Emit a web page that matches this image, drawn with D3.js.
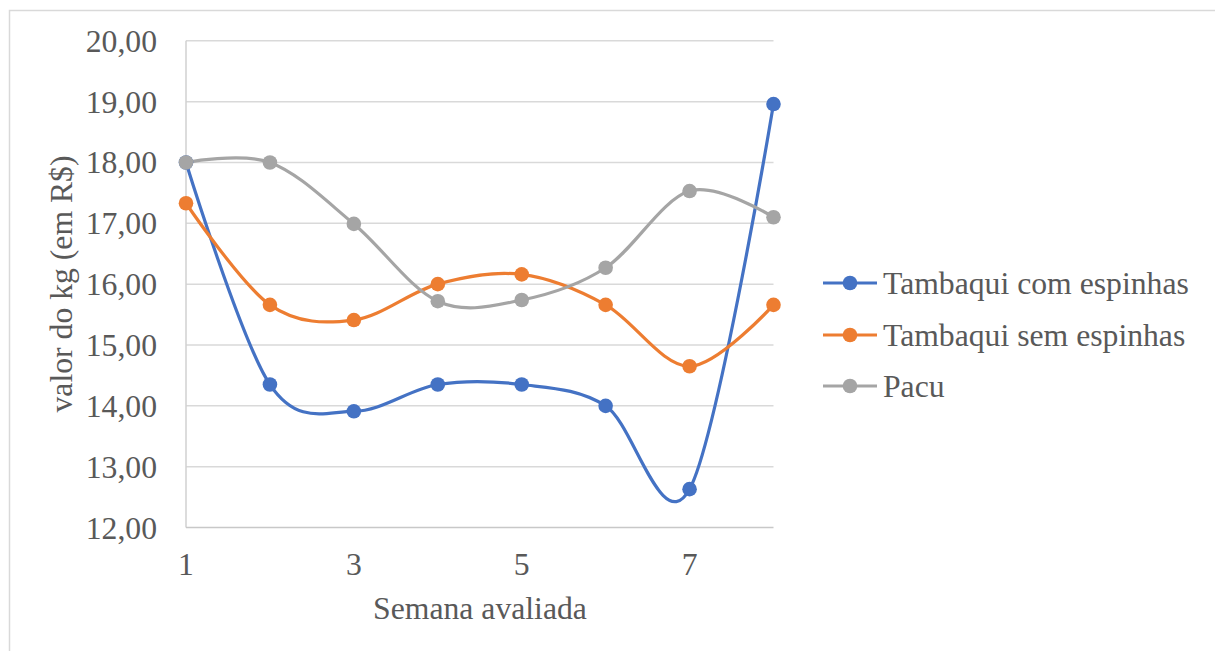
<!DOCTYPE html>
<html>
<head>
<meta charset="utf-8">
<script src="https://cdn.jsdelivr.net/npm/d3@7"></script>
<style>
  html, body { margin: 0; padding: 0; background: #fff; }
  svg { display: block; }
</style>
</head>
<body>
<svg id="chart" width="1215" height="651" font-family="'Liberation Serif', 'Times New Roman', Tinos, 'DejaVu Serif', serif"></svg>
<script>
// Weekly price per kg (R$)
const semanas = [1, 2, 3, 4, 5, 6, 7, 8];
const tambaquiComEspinhas = [18.00, 14.35, 13.91, 14.35, 14.35, 14.00, 12.63, 18.96];
const tambaquiSemEspinhas = [17.33, 15.66, 15.41, 16.00, 16.16, 15.66, 14.65, 15.66];
const pacu = [18.00, 18.00, 16.99, 15.72, 15.74, 16.27, 17.53, 17.10];

const seriesNames = ["Tambaqui com espinhas", "Tambaqui sem espinhas", "Pacu"];
const seriesColors = ["#4472C4", "#ED7D31", "#A5A5A5"];
const yTicks = [12, 13, 14, 15, 16, 17, 18, 19, 20];
const xTicks = [1, 3, 5, 7];

const series = [tambaquiComEspinhas, tambaquiSemEspinhas, pacu].map((vals, i) => ({
  name: seriesNames[i],
  color: seriesColors[i],
  points: semanas.map((s, j) => ({ x: s, y: vals[j] }))
}));

const svg = d3.select("#chart");
const fs = 31.7;
const textColor = "#595959";

// outer chart frame
svg.append("rect")
  .attr("x", 9.5).attr("y", 10.5)
  .attr("width", 1240).attr("height", 700)
  .attr("fill", "none").attr("stroke", "#d9d9d9").attr("stroke-width", 1.5);

const x = d3.scaleLinear().domain([1, 8]).range([186, 773.5]);
const y = d3.scaleLinear().domain([12, 20]).range([527.5, 40.8]);

// horizontal gridlines
svg.append("g").selectAll("line").data(yTicks.filter(t => t !== 12)).join("line")
  .attr("x1", x(1)).attr("x2", x(8))
  .attr("y1", d => y(d)).attr("y2", d => y(d))
  .attr("stroke", "#d9d9d9").attr("stroke-width", 1.5);

// axis lines
svg.append("line")
  .attr("x1", x(1)).attr("x2", x(1))
  .attr("y1", y(20)).attr("y2", y(12))
  .attr("stroke", "#d0d0d0").attr("stroke-width", 1.5);
svg.append("line")
  .attr("x1", x(1)).attr("x2", x(8))
  .attr("y1", y(12)).attr("y2", y(12))
  .attr("stroke", "#c8c8c8").attr("stroke-width", 1.5);

// y tick labels
const fmt = v => v.toFixed(2).replace(".", ",");
svg.append("g").selectAll("text").data(yTicks).join("text")
  .attr("x", 157).attr("y", d => y(d) + 11)
  .attr("text-anchor", "end")
  .attr("font-size", fs).attr("fill", textColor)
  .text(fmt);

// x tick labels
svg.append("g").selectAll("text").data(xTicks).join("text")
  .attr("x", d => x(d)).attr("y", 575)
  .attr("text-anchor", "middle")
  .attr("font-size", fs).attr("fill", textColor)
  .text(d => d);

// axis titles
svg.append("text")
  .attr("x", 480).attr("y", 619)
  .attr("text-anchor", "middle")
  .attr("font-size", fs).attr("fill", textColor)
  .text("Semana avaliada");

svg.append("text")
  .attr("transform", "translate(72,284) rotate(-90)")
  .attr("text-anchor", "middle")
  .attr("font-size", fs).attr("fill", textColor)
  .text("valor do kg (em R$)");

// smoothed lines
const line = d3.line()
  .x(d => x(d.x)).y(d => y(d.y))
  .curve(d3.curveCardinal.tension(0));

const g = svg.append("g");
series.forEach(s => {
  g.append("path")
    .attr("d", line(s.points))
    .attr("fill", "none")
    .attr("stroke", s.color)
    .attr("stroke-width", 3.2)
    .attr("stroke-linecap", "round");
});
series.forEach(s => {
  g.append("g").selectAll("circle").data(s.points).join("circle")
    .attr("cx", d => x(d.x)).attr("cy", d => y(d.y))
    .attr("r", 7.3)
    .attr("fill", s.color);
});

// legend
const legendRows = [283, 335, 386];
const lg = svg.append("g");
series.forEach((s, i) => {
  const cy = legendRows[i];
  lg.append("line")
    .attr("x1", 823).attr("x2", 877)
    .attr("y1", cy).attr("y2", cy)
    .attr("stroke", s.color).attr("stroke-width", 3.2);
  lg.append("circle")
    .attr("cx", 850).attr("cy", cy).attr("r", 7.3)
    .attr("fill", s.color);
  lg.append("text")
    .attr("x", 883).attr("y", cy + 11)
    .attr("font-size", fs).attr("fill", textColor)
    .text(s.name);
});
</script>
</body>
</html>
